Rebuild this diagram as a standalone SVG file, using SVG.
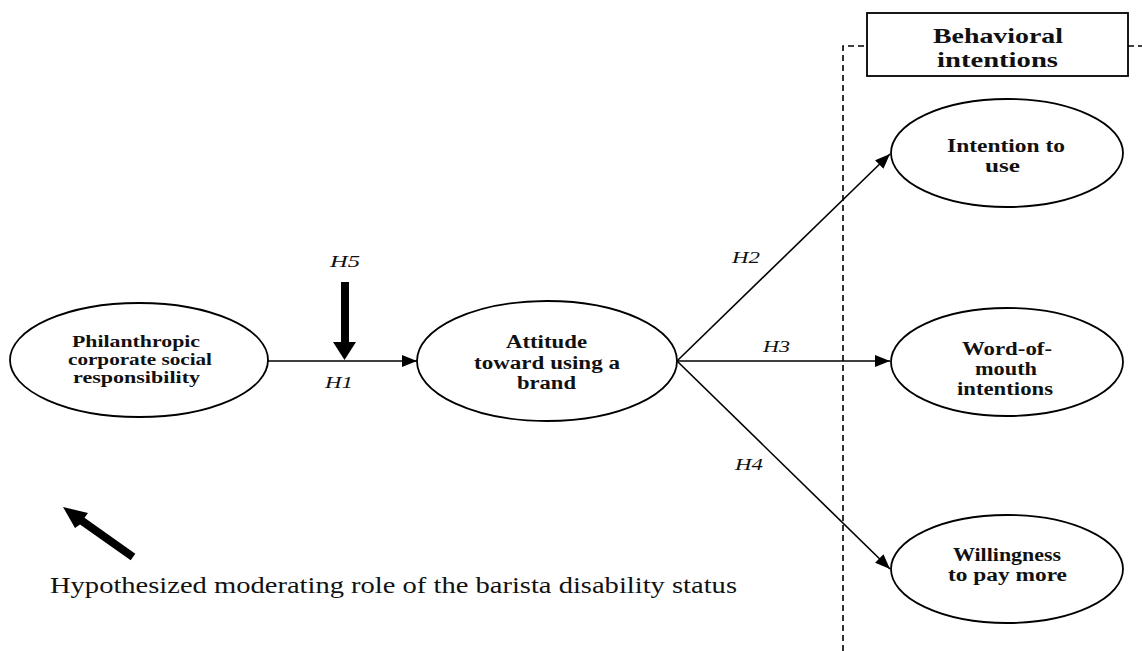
<svg xmlns="http://www.w3.org/2000/svg" width="1142" height="651" viewBox="0 0 1142 651">
<style>
.node{fill:#fff;stroke:#000;stroke-width:1.8}
.lbl{font-family:"Liberation Serif","Times New Roman",serif;font-weight:bold;fill:#111}
.h{font-family:"Liberation Serif","Times New Roman",serif;font-style:italic;font-size:17px;fill:#111}
.conn{stroke:#000;stroke-width:1.6;fill:none}
.dash{stroke:#000;stroke-width:1.6;fill:none;stroke-dasharray:6 4}
</style>
<defs>
<marker id="ah" markerUnits="userSpaceOnUse" markerWidth="16" markerHeight="12" refX="15" refY="6" orient="auto">
<path d="M0,0 L15,6 L0,12 Z" fill="#000"/>
</marker>
</defs>
<rect width="1142" height="651" fill="#fff"/>

<g id="behavioral-group">
<path class="dash" d="M843,651 V46 H867 M1128,46 H1142"/>
<rect x="867" y="13" width="261" height="63" fill="#fff" stroke="#000" stroke-width="1.8"/>
<text class="lbl" font-size="22" x="933" y="43" textLength="130" lengthAdjust="spacingAndGlyphs">Behavioral</text>
<text class="lbl" font-size="22" x="937" y="67" textLength="121" lengthAdjust="spacingAndGlyphs">intentions</text>
</g>

<g id="connectors">
<line class="conn" x1="268" y1="361" x2="417" y2="361" marker-end="url(#ah)"/>
<line class="conn" x1="677" y1="361" x2="890" y2="154" marker-end="url(#ah)"/>
<line class="conn" x1="677" y1="361" x2="890" y2="361" marker-end="url(#ah)"/>
<line class="conn" x1="677" y1="361" x2="890" y2="569" marker-end="url(#ah)"/>
<text class="h" x="732" y="263" textLength="28" lengthAdjust="spacingAndGlyphs">H2</text>
<text class="h" x="763" y="352" textLength="27" lengthAdjust="spacingAndGlyphs">H3</text>
<text class="h" x="735" y="470" textLength="28" lengthAdjust="spacingAndGlyphs">H4</text>
<text class="h" x="325" y="388" textLength="28" lengthAdjust="spacingAndGlyphs">H1</text>
</g>

<g id="moderator-h5">
<text class="h" x="330" y="267" textLength="30" lengthAdjust="spacingAndGlyphs">H5</text>
<rect x="341" y="282" width="8" height="62" fill="#000"/>
<polygon points="333,342 356,342 344.5,360" fill="#000"/>
</g>

<g id="node-pcsr">
<ellipse class="node" cx="139" cy="360" rx="129" ry="57"/>
<text class="lbl" font-size="16" x="72" y="347" textLength="128" lengthAdjust="spacingAndGlyphs">Philanthropic</text>
<text class="lbl" font-size="16" x="68" y="365" textLength="144" lengthAdjust="spacingAndGlyphs">corporate social</text>
<text class="lbl" font-size="16" x="73" y="383" textLength="127" lengthAdjust="spacingAndGlyphs">responsibility</text>
</g>

<g id="node-attitude">
<ellipse class="node" cx="547" cy="361" rx="130" ry="60"/>
<text class="lbl" font-size="18" x="506" y="348" textLength="81" lengthAdjust="spacingAndGlyphs">Attitude</text>
<text class="lbl" font-size="18" x="474" y="369" textLength="146" lengthAdjust="spacingAndGlyphs">toward using a</text>
<text class="lbl" font-size="18" x="517" y="389" textLength="59" lengthAdjust="spacingAndGlyphs">brand</text>
</g>

<g id="node-intention">
<ellipse class="node" cx="1007" cy="153" rx="116" ry="54"/>
<text class="lbl" font-size="18" x="947" y="152" textLength="118" lengthAdjust="spacingAndGlyphs">Intention to</text>
<text class="lbl" font-size="18" x="985" y="172" textLength="35" lengthAdjust="spacingAndGlyphs">use</text>
</g>

<g id="node-wom">
<ellipse class="node" cx="1007" cy="362" rx="116" ry="54"/>
<text class="lbl" font-size="18" x="962" y="355" textLength="90" lengthAdjust="spacingAndGlyphs">Word-of-</text>
<text class="lbl" font-size="18" x="975" y="375" textLength="62" lengthAdjust="spacingAndGlyphs">mouth</text>
<text class="lbl" font-size="18" x="957" y="395" textLength="96" lengthAdjust="spacingAndGlyphs">intentions</text>
</g>

<g id="node-wtp">
<ellipse class="node" cx="1007" cy="569" rx="116" ry="54"/>
<text class="lbl" font-size="18" x="953" y="561" textLength="108" lengthAdjust="spacingAndGlyphs">Willingness</text>
<text class="lbl" font-size="18" x="948" y="581" textLength="119" lengthAdjust="spacingAndGlyphs">to pay more</text>
</g>

<g id="legend">
<polygon points="63,507 88,513 84.5,517.8 135.3,553.7 130.7,560.3 80,524.4 75,528" fill="#000"/>
<text font-family="'Liberation Serif','Times New Roman',serif" font-size="23" fill="#111" x="50" y="593" textLength="687" lengthAdjust="spacingAndGlyphs">Hypothesized moderating role of the barista disability status</text>
</g>
</svg>
